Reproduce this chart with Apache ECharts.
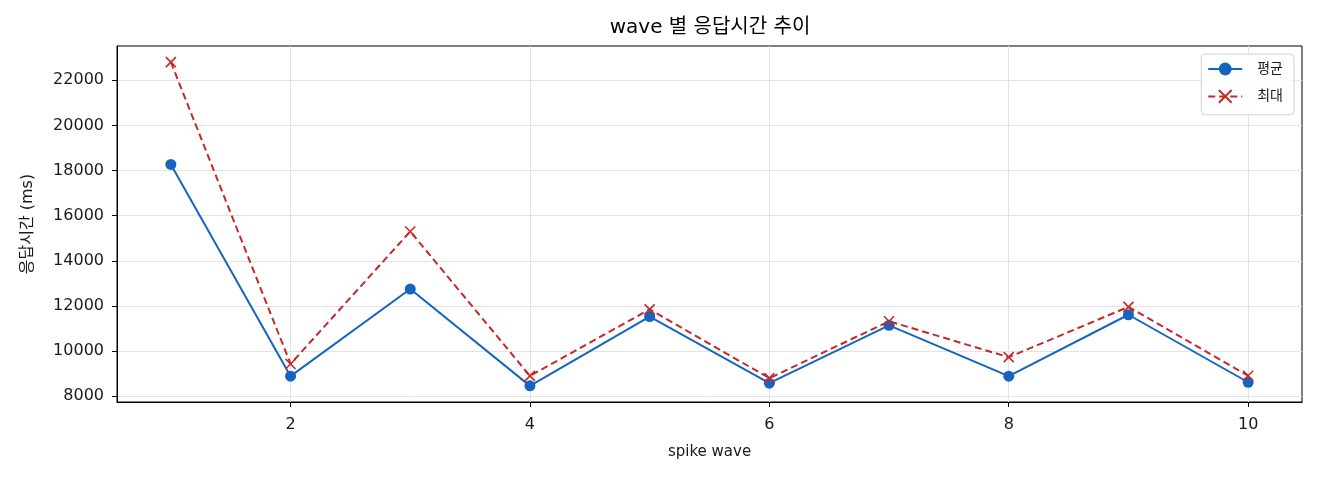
<!DOCTYPE html>
<html>
<head>
  <meta charset="utf-8">
  <title>wave 별 응답시간 추이</title>
  <script src="https://cdn.jsdelivr.net/npm/echarts@6/dist/echarts.min.js"></script>
  <style>
    html, body { margin: 0; padding: 0; background: #fff; }
    #chart { width: 1320px; height: 480px; }
  </style>
</head>
<body>
<div id="chart"></div>
<script>
// 데이터
var waves = [1, 2, 3, 4, 5, 6, 7, 8, 9, 10];
var avgMs = [18270, 8890, 12750, 8460, 11530, 8580, 11140, 8890, 11610, 8620];
var maxMs = [22800, 9430, 15300, 8900, 11850, 8800, 11320, 9730, 11960, 8910];
var xTicks = [2, 4, 6, 8, 10];
var yTicks = [8000, 10000, 12000, 14000, 16000, 18000, 20000, 22000];

var FONT = '"DejaVu Sans", "Noto Sans CJK KR", sans-serif';
var TXT = '#1a1a1a';

function pairs(ys) {
  return waves.map(function (w, i) { return [w, ys[i]]; });
}

var myChart = echarts.init(document.getElementById('chart'));

var option = {
  animation: false,
  textStyle: { fontFamily: FONT, color: TXT },
  title: {
    text: 'wave 별 응답시간 추이',
    left: 705,
    textAlign: 'center',
    top: 13,
    textStyle: { fontFamily: FONT, fontSize: 20, fontWeight: 'normal', color: '#000' }
  },
  legend: {
    orient: 'vertical',
    right: 26,
    top: 54,
    padding: [8, 11, 11, 6],
    itemGap: 13,
    itemWidth: 34,
    itemHeight: 16,
    borderColor: '#d0d0d0',
    borderWidth: 1,
    borderRadius: 4,
    backgroundColor: 'rgba(255,255,255,0.85)',
    textStyle: { fontFamily: FONT, fontSize: 14, color: TXT, padding: [0, 0, 0, 10] },
    data: ['평균', '최대']
  },
  grid: {
    left: 117,
    right: 18,
    top: 46,
    bottom: 78,
    show: true,
    borderColor: '#000',
    borderWidth: 1,
    backgroundColor: 'transparent'
  },
  xAxis: {
    type: 'value',
    min: 0.55,
    max: 10.45,
    name: 'spike wave',
    nameLocation: 'middle',
    nameGap: 43,
    nameTextStyle: { fontFamily: FONT, fontSize: 15, color: TXT },
    axisLine: { show: true, lineStyle: { color: '#000', width: 1 } },
    axisTick: { show: true, inside: false, length: 5, customValues: xTicks, lineStyle: { color: '#000' } },
    axisLabel: { customValues: xTicks, margin: 15, fontSize: 16, color: TXT, fontFamily: FONT },
    splitLine: { show: true, lineStyle: { color: '#e3e3e3', width: 1 } }
  },
  yAxis: {
    type: 'value',
    min: 7745,
    max: 23515,
    name: '응답시간 (ms)',
    nameLocation: 'middle',
    nameRotate: 90,
    nameGap: 81,
    nameTextStyle: { fontFamily: FONT, fontSize: 16, color: TXT },
    axisLine: { show: true, lineStyle: { color: '#000', width: 1 } },
    axisTick: { show: true, inside: false, length: 5, customValues: yTicks, lineStyle: { color: '#000' } },
    axisLabel: {
      customValues: yTicks, margin: 13, fontSize: 16, color: TXT, fontFamily: FONT,
      formatter: function (v) { return String(v); }
    },
    splitLine: { show: true, lineStyle: { color: '#e3e3e3', width: 1 } }
  },
  series: [
    {
      name: '평균',
      type: 'line',
      data: pairs(avgMs),
      symbol: 'circle',
      symbolSize: 11,
      color: '#1565c0',
      lineStyle: { color: '#1565c0', width: 2 },
      itemStyle: { color: '#1565c0' }
    },
    {
      name: '최대',
      type: 'line',
      data: pairs(maxMs),
      symbol: 'path://M0,0L10,10M10,0L0,10',
      symbolSize: 10,
      color: '#c62828',
      lineStyle: { color: '#c62828', width: 2, type: [7, 4] },
      itemStyle: { color: '#c62828', borderColor: '#c62828', borderWidth: 1.6 }
    }
  ]
};

myChart.setOption(option, true);
</script>
</body>
</html>
